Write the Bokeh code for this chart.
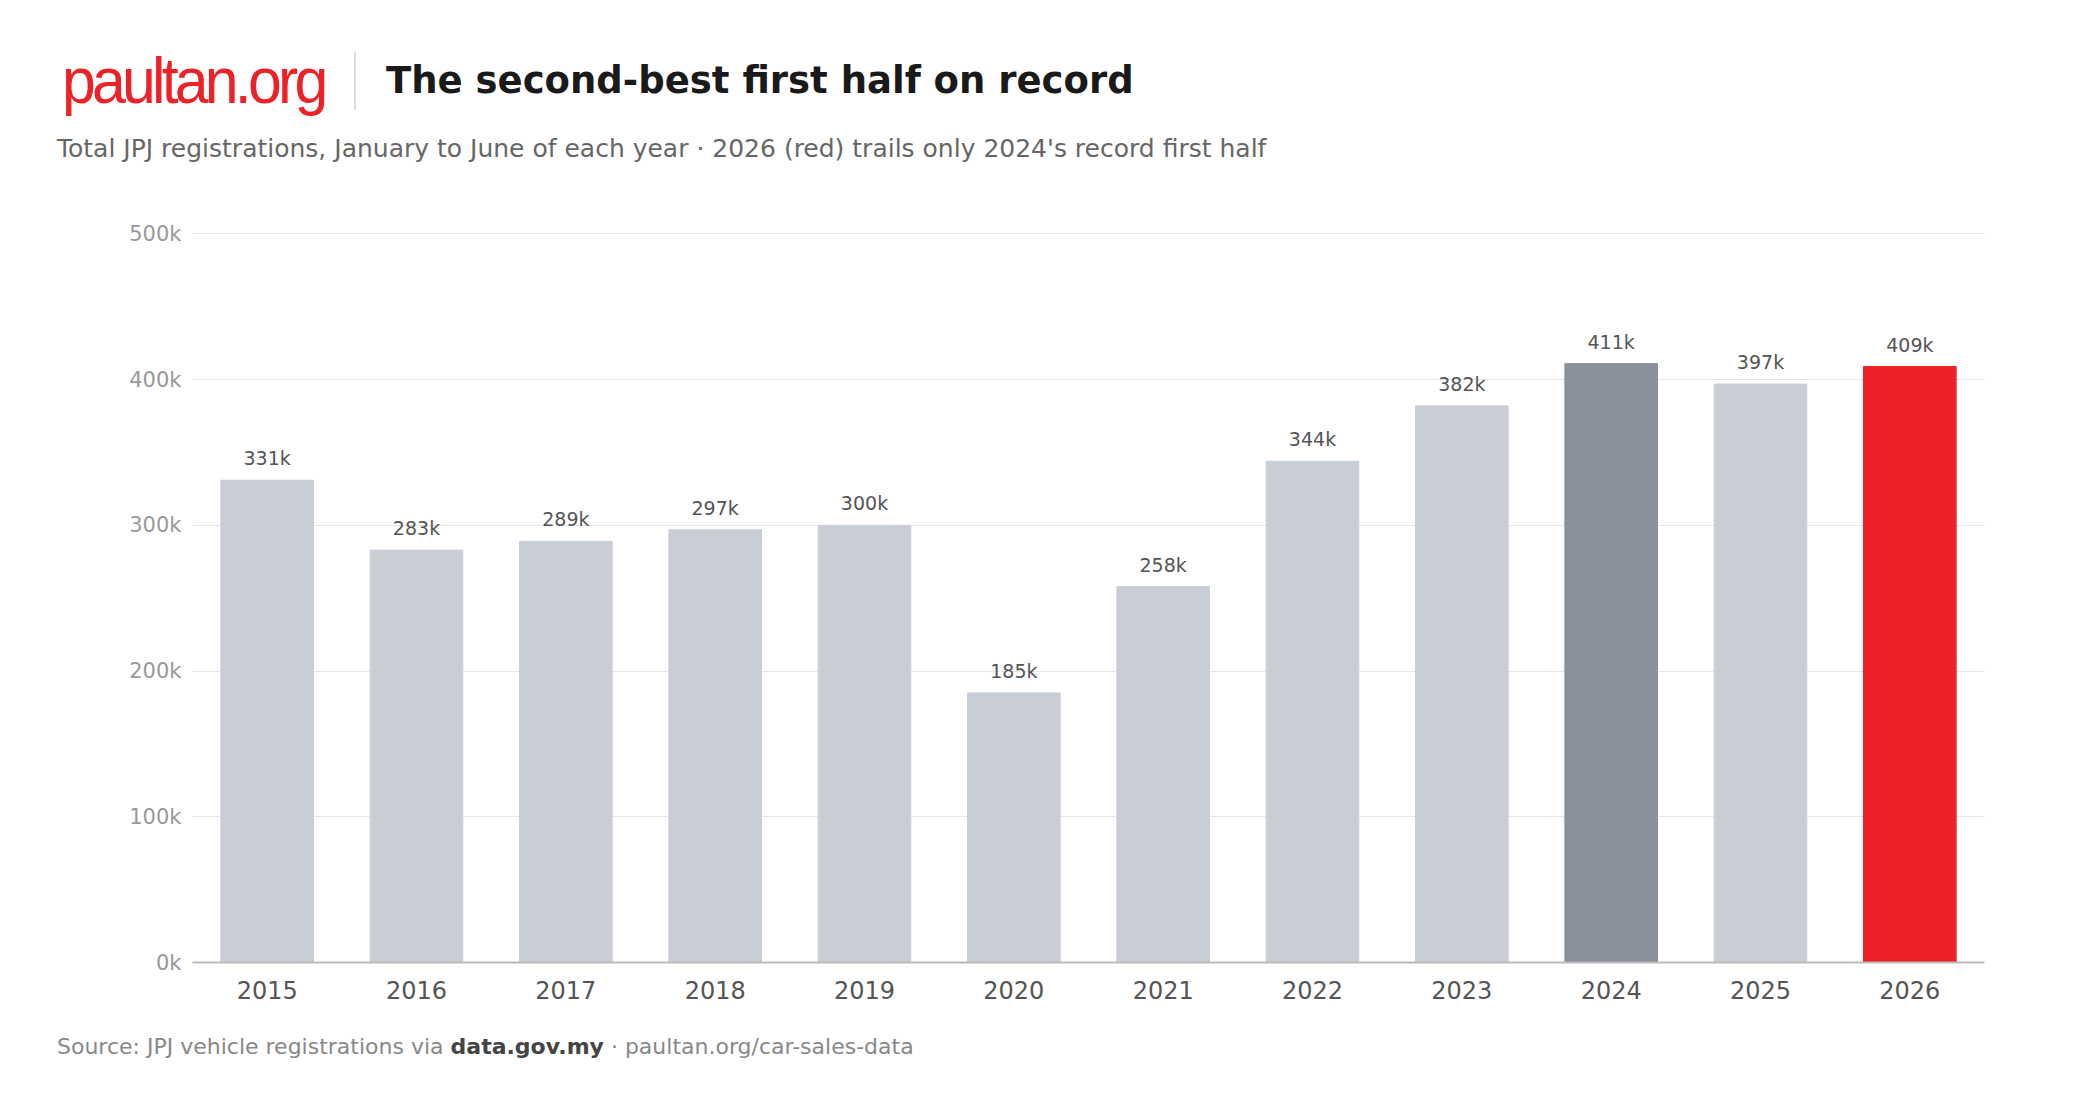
from bokeh.plotting import figure
from bokeh.models import ColumnDataSource, Div, CustomJSTickFormatter
from bokeh.layouts import column
from bokeh.embed import file_html
from bokeh.resources import INLINE
from bokeh.core.properties import value

years = ["2015", "2016", "2017", "2018", "2019", "2020", "2021", "2022", "2023", "2024", "2025", "2026"]
regs = [331000, 283000, 289000, 297000, 300000, 185000, 258000, 344000, 382000, 411000, 397000, 409000]
labels = ["331k", "283k", "289k", "297k", "300k", "185k", "258k", "344k", "382k", "411k", "397k", "409k"]
colors = ["#c9cdd5"] * 9 + ["#8a919b", "#c9cdd5", "#ec2227"]

FONT = "DejaVu Sans"

src = ColumnDataSource(dict(x=years, top=regs, lab=labels, color=colors))

header = Div(width=2064, height=166, text=f"""
<div style="font-family:'{FONT}';">
 <div style="display:flex;align-items:center;margin-top:46px;margin-left:57px;">
  <span style="font-family:'Liberation Sans Narrow','Liberation Sans';color:#ec2227;font-size:64px;letter-spacing:-4px;line-height:60px;transform:scaleX(0.95);transform-origin:left;display:inline-block;width:262px;">paultan.org</span>
  <span style="display:inline-block;width:2px;height:58px;background:#ddd;margin:0 30px 0 30px;"></span>
  <span style="font-weight:bold;font-size:37px;color:#1a1a1a;">The second-best first half on record</span>
 </div>
 <div style="margin-left:52px;margin-top:20px;font-size:25px;color:#666;">Total JPJ registrations, January to June of each year &middot; 2026 (red) trails only 2024's record first half</div>
</div>""")

p = figure(x_range=years, y_range=(0, 501000), width=2064, height=850,
           output_backend="svg", toolbar_location=None,
           min_border_left=192, min_border_right=80, min_border_top=56, min_border_bottom=64)
p.vbar(x="x", top="top", width=0.62, color="color", source=src)
p.text(x="x", y="top", text="lab", source=src, y_offset=-11, text_align="center",
       text_baseline="bottom", text_font_size="19px", text_color="#555", text_font=value(FONT))

p.outline_line_color = None
p.xgrid.grid_line_color = None
p.ygrid.grid_line_color = "#e6e6e6"
p.yaxis.ticker = [0, 100000, 200000, 300000, 400000, 500000]
p.yaxis.formatter = CustomJSTickFormatter(code="return (tick/1000) + 'k'")
p.yaxis.axis_line_color = None
p.yaxis.major_tick_line_color = None
p.yaxis.minor_tick_line_color = None
p.yaxis.major_label_text_color = "#999"
p.yaxis.major_label_text_font_size = "21px"
p.yaxis.major_label_text_font = FONT
p.xaxis.axis_line_color = "#bbbbbb"
p.xaxis.axis_line_width = 2
p.xaxis.major_tick_line_color = None
p.xaxis.major_label_text_color = "#555"
p.xaxis.major_label_text_font_size = "24px"
p.xaxis.major_label_text_font = FONT
p.xaxis.major_label_standoff = 12

footer = Div(width=2064, height=60, text=f"""
<div style="font-family:'{FONT}';font-size:22px;color:#888;margin-left:52px;margin-top:0px;">
Source: JPJ vehicle registrations via <b style="color:#444;">data.gov.my</b> &middot; paultan.org/car-sales-data</div>""")

layout = column(header, p, footer, spacing=0)
open("out.html", "w").write(file_html(layout, INLINE))
